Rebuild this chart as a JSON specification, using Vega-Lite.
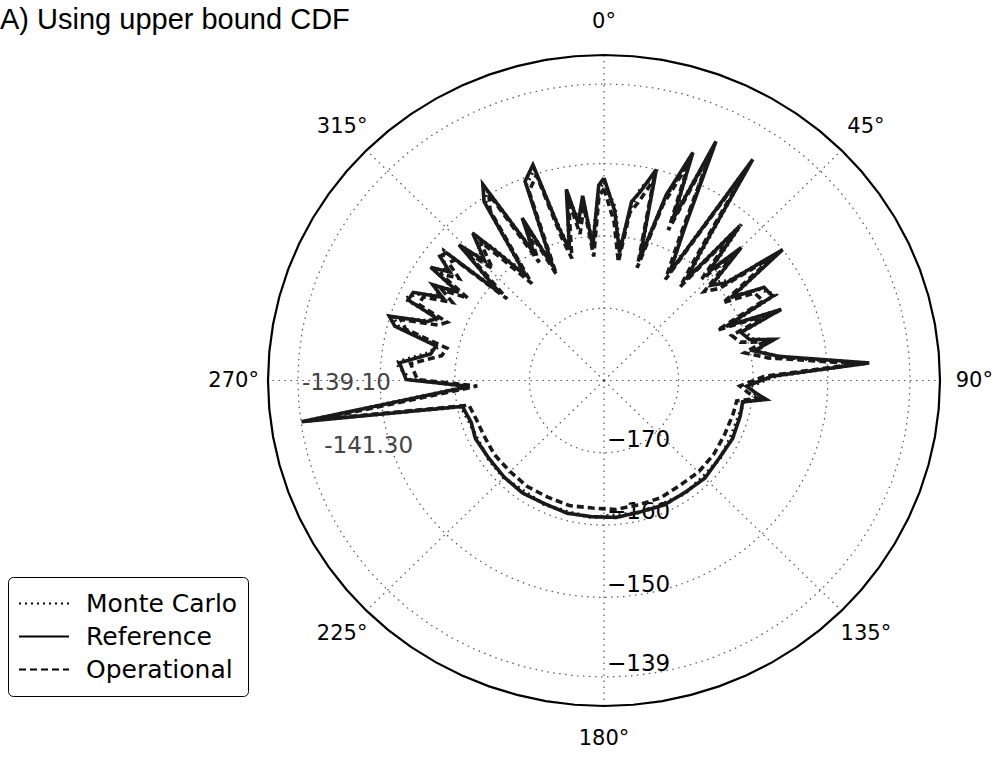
{
  "$schema": "https://vega.github.io/schema/vega-lite/v6.json",
  "autosize": {"type": "none"},
  "width": 672,
  "height": 651,
  "padding": {"left": 268, "top": 55, "right": 58, "bottom": 53},
  "background": "white",
  "title": {"text": "A) Using upper bound CDF", "anchor": "start", "frame": "group", "dx": -268, "dy": 47, "fontSize": 29, "font": "Liberation Sans", "fontWeight": "normal", "color": "black", "baseline": "alphabetic", "offset": 0},
  "config": {
    "view": {"stroke": null},
    "legend": {"orient": "none", "legendX": -260, "legendY": 522, "strokeColor": "black", "cornerRadius": 5, "padding": 10, "fillColor": "white", "labelFont": "DejaVu Sans", "labelFontSize": 25, "labelColor": "black", "symbolType": "stroke", "symbolSize": 2500, "symbolStrokeWidth": 2, "symbolStrokeColor": "black", "clipHeight": 33, "labelOffset": 16, "rowPadding": 0, "labelLimit": 300}
  },
  "datasets": {
    "angles": [
      {"a": 0}, {"a": 5}, {"a": 10}, {"a": 15}, {"a": 20}, {"a": 25}, {"a": 30}, {"a": 35}, {"a": 40}, {"a": 45},
      {"a": 50}, {"a": 55}, {"a": 60}, {"a": 65}, {"a": 70}, {"a": 75}, {"a": 80}, {"a": 85}, {"a": 90}, {"a": 95},
      {"a": 100}, {"a": 105}, {"a": 110}, {"a": 115}, {"a": 120}, {"a": 125}, {"a": 130}, {"a": 135}, {"a": 140}, {"a": 145},
      {"a": 150}, {"a": 155}, {"a": 160}, {"a": 165}, {"a": 170}, {"a": 175}, {"a": 180}, {"a": 185}, {"a": 190}, {"a": 195},
      {"a": 200}, {"a": 205}, {"a": 210}, {"a": 215}, {"a": 220}, {"a": 225}, {"a": 230}, {"a": 235}, {"a": 240}, {"a": 245},
      {"a": 250}, {"a": 255}, {"a": 260}, {"a": 265}, {"a": 270}, {"a": 275}, {"a": 280}, {"a": 285}, {"a": 290}, {"a": 295},
      {"a": 300}, {"a": 305}, {"a": 310}, {"a": 315}, {"a": 320}, {"a": 325}, {"a": 330}, {"a": 335}, {"a": 340}, {"a": 345},
      {"a": 350}, {"a": 355}, {"a": 360}
    ],
    "curves": [
      {"a": 0, "Reference": -152.0, "Monte Carlo": -152.6, "Operational": -153.5},
      {"a": 3.5, "Reference": -156.5, "Monte Carlo": -156.0, "Operational": -158.0},
      {"a": 6.7, "Reference": -162.2, "Monte Carlo": -161.8, "Operational": -163.5},
      {"a": 8.5, "Reference": -155.0, "Monte Carlo": -155.8, "Operational": -156.5},
      {"a": 10.5, "Reference": -153.5, "Monte Carlo": -153.0, "Operational": -155.0},
      {"a": 13.5, "Reference": -150.0, "Monte Carlo": -150.8, "Operational": -151.5},
      {"a": 15.9, "Reference": -162.6, "Monte Carlo": -162.0, "Operational": -163.8},
      {"a": 18.0, "Reference": -153.0, "Monte Carlo": -153.5, "Operational": -154.5},
      {"a": 20.7, "Reference": -146.3, "Monte Carlo": -147.0, "Operational": -147.8},
      {"a": 22.5, "Reference": -156.0, "Monte Carlo": -155.2, "Operational": -157.5},
      {"a": 24.4, "Reference": -143.7, "Monte Carlo": -144.5, "Operational": -145.0},
      {"a": 27.0, "Reference": -156.0, "Monte Carlo": -156.8, "Operational": -157.5},
      {"a": 30.5, "Reference": -162.7, "Monte Carlo": -162.2, "Operational": -163.8},
      {"a": 33.1, "Reference": -143.5, "Monte Carlo": -144.3, "Operational": -145.0},
      {"a": 36.0, "Reference": -158.0, "Monte Carlo": -157.2, "Operational": -159.5},
      {"a": 38.2, "Reference": -162.2, "Monte Carlo": -162.0, "Operational": -163.5},
      {"a": 40.4, "Reference": -152.0, "Monte Carlo": -151.5, "Operational": -153.5},
      {"a": 43.0, "Reference": -159.5, "Monte Carlo": -159.0, "Operational": -160.8},
      {"a": 45.0, "Reference": -154.0, "Monte Carlo": -154.6, "Operational": -155.5},
      {"a": 47.5, "Reference": -160.5, "Monte Carlo": -160.0, "Operational": -161.8},
      {"a": 50.5, "Reference": -158.8, "Monte Carlo": -158.3, "Operational": -160.0},
      {"a": 52.9, "Reference": -150.0, "Monte Carlo": -150.6, "Operational": -151.5},
      {"a": 56.0, "Reference": -159.5, "Monte Carlo": -159.0, "Operational": -160.8},
      {"a": 59.0, "Reference": -155.0, "Monte Carlo": -155.5, "Operational": -156.5},
      {"a": 62.7, "Reference": -154.6, "Monte Carlo": -154.2, "Operational": -156.0},
      {"a": 65.4, "Reference": -162.0, "Monte Carlo": -161.6, "Operational": -163.3},
      {"a": 67.5, "Reference": -154.3, "Monte Carlo": -154.8, "Operational": -155.8},
      {"a": 70.0, "Reference": -160.5, "Monte Carlo": -160.0, "Operational": -161.8},
      {"a": 73.8, "Reference": -159.7, "Monte Carlo": -159.3, "Operational": -161.0},
      {"a": 76.0, "Reference": -156.5, "Monte Carlo": -157.0, "Operational": -158.0},
      {"a": 78.5, "Reference": -159.5, "Monte Carlo": -159.0, "Operational": -160.8},
      {"a": 81.9, "Reference": -156.3, "Monte Carlo": -156.8, "Operational": -157.8},
      {"a": 86.1, "Reference": -144.4, "Monte Carlo": -145.0, "Operational": -146.0},
      {"a": 88.5, "Reference": -157.5, "Monte Carlo": -157.0, "Operational": -158.6},
      {"a": 92.4, "Reference": -160.9, "Monte Carlo": -160.5, "Operational": -161.8},
      {"a": 95.0, "Reference": -159.5, "Monte Carlo": -159.8, "Operational": -160.6},
      {"a": 96.9, "Reference": -158.1, "Monte Carlo": -158.5, "Operational": -159.3},
      {"a": 99.0, "Reference": -161.2, "Monte Carlo": -161.0, "Operational": -162.0},
      {"a": 105, "Reference": -161.1, "Monte Carlo": -161.3, "Operational": -162.1},
      {"a": 115, "Reference": -161.0, "Monte Carlo": -161.3, "Operational": -162.2},
      {"a": 125, "Reference": -161.2, "Monte Carlo": -161.1, "Operational": -162.1},
      {"a": 135, "Reference": -160.9, "Monte Carlo": -161.2, "Operational": -162.1},
      {"a": 145, "Reference": -161.1, "Monte Carlo": -161.0, "Operational": -162.3},
      {"a": 155, "Reference": -161.0, "Monte Carlo": -161.2, "Operational": -162.1},
      {"a": 165, "Reference": -161.2, "Monte Carlo": -161.1, "Operational": -162.2},
      {"a": 175, "Reference": -161.0, "Monte Carlo": -161.3, "Operational": -162.1},
      {"a": 185, "Reference": -161.1, "Monte Carlo": -161.0, "Operational": -162.3},
      {"a": 195, "Reference": -161.0, "Monte Carlo": -161.2, "Operational": -162.1},
      {"a": 205, "Reference": -161.2, "Monte Carlo": -161.1, "Operational": -162.2},
      {"a": 215, "Reference": -161.0, "Monte Carlo": -161.3, "Operational": -162.1},
      {"a": 225, "Reference": -161.1, "Monte Carlo": -161.0, "Operational": -162.2},
      {"a": 235, "Reference": -161.2, "Monte Carlo": -161.1, "Operational": -162.1},
      {"a": 245, "Reference": -161.0, "Monte Carlo": -161.2, "Operational": -162.2},
      {"a": 252, "Reference": -161.3, "Monte Carlo": -161.1, "Operational": -162.1},
      {"a": 259.3, "Reference": -160.7, "Monte Carlo": -160.5, "Operational": -161.6},
      {"a": 262.0, "Reference": -139.1, "Monte Carlo": -139.6, "Operational": -141.3},
      {"a": 267.4, "Reference": -162.0, "Monte Carlo": -161.6, "Operational": -163.0},
      {"a": 270.3, "Reference": -153.5, "Monte Carlo": -154.0, "Operational": -155.0},
      {"a": 275.1, "Reference": -152.5, "Monte Carlo": -152.0, "Operational": -154.0},
      {"a": 279.0, "Reference": -156.5, "Monte Carlo": -156.0, "Operational": -158.0},
      {"a": 282.0, "Reference": -157.0, "Monte Carlo": -157.4, "Operational": -158.5},
      {"a": 285.0, "Reference": -151.0, "Monte Carlo": -151.6, "Operational": -152.5},
      {"a": 287.2, "Reference": -149.9, "Monte Carlo": -150.4, "Operational": -151.5},
      {"a": 289.0, "Reference": -155.0, "Monte Carlo": -154.5, "Operational": -156.5},
      {"a": 291.0, "Reference": -156.0, "Monte Carlo": -156.5, "Operational": -157.5},
      {"a": 293.0, "Reference": -151.5, "Monte Carlo": -151.0, "Operational": -153.0},
      {"a": 295.5, "Reference": -151.7, "Monte Carlo": -152.2, "Operational": -153.2},
      {"a": 298.0, "Reference": -155.5, "Monte Carlo": -155.0, "Operational": -157.0},
      {"a": 300.0, "Reference": -153.5, "Monte Carlo": -154.0, "Operational": -155.0},
      {"a": 302.0, "Reference": -157.0, "Monte Carlo": -156.5, "Operational": -158.5},
      {"a": 304.0, "Reference": -152.0, "Monte Carlo": -152.5, "Operational": -153.5},
      {"a": 306.0, "Reference": -154.5, "Monte Carlo": -154.0, "Operational": -156.0},
      {"a": 308.0, "Reference": -152.1, "Monte Carlo": -152.6, "Operational": -153.6},
      {"a": 309.9, "Reference": -152.5, "Monte Carlo": -152.0, "Operational": -154.0},
      {"a": 311.0, "Reference": -161.5, "Monte Carlo": -161.0, "Operational": -162.8},
      {"a": 314.0, "Reference": -153.0, "Monte Carlo": -153.5, "Operational": -154.5},
      {"a": 316.0, "Reference": -157.0, "Monte Carlo": -156.5, "Operational": -158.5},
      {"a": 319.2, "Reference": -153.1, "Monte Carlo": -153.6, "Operational": -154.6},
      {"a": 321.0, "Reference": -157.0, "Monte Carlo": -156.6, "Operational": -158.5},
      {"a": 324.2, "Reference": -162.2, "Monte Carlo": -161.8, "Operational": -163.5},
      {"a": 327.0, "Reference": -150.5, "Monte Carlo": -151.0, "Operational": -152.0},
      {"a": 329.1, "Reference": -148.4, "Monte Carlo": -149.0, "Operational": -150.0},
      {"a": 332.0, "Reference": -160.0, "Monte Carlo": -159.5, "Operational": -161.5},
      {"a": 334.0, "Reference": -155.0, "Monte Carlo": -155.6, "Operational": -156.5},
      {"a": 336.5, "Reference": -162.8, "Monte Carlo": -162.3, "Operational": -164.0},
      {"a": 339.0, "Reference": -150.5, "Monte Carlo": -151.0, "Operational": -152.0},
      {"a": 342.3, "Reference": -148.7, "Monte Carlo": -149.3, "Operational": -150.2},
      {"a": 344.0, "Reference": -158.0, "Monte Carlo": -157.5, "Operational": -159.5},
      {"a": 345.7, "Reference": -161.3, "Monte Carlo": -161.0, "Operational": -162.6},
      {"a": 349.2, "Reference": -153.1, "Monte Carlo": -153.6, "Operational": -154.6},
      {"a": 351.0, "Reference": -158.0, "Monte Carlo": -157.5, "Operational": -159.5},
      {"a": 353.6, "Reference": -154.3, "Monte Carlo": -154.8, "Operational": -155.8},
      {"a": 355.4, "Reference": -161.4, "Monte Carlo": -161.0, "Operational": -162.8},
      {"a": 358.5, "Reference": -153.0, "Monte Carlo": -153.5, "Operational": -154.5},
      {"a": 360, "Reference": -152.0, "Monte Carlo": -152.6, "Operational": -153.5}
    ]
  },
  "encoding": {
    "x": {"field": "x", "type": "quantitative", "scale": {"domain": [-45, 45], "nice": false, "zero": false}, "axis": null},
    "y": {"field": "y", "type": "quantitative", "scale": {"domain": [-45, 45], "nice": false, "zero": false}, "axis": null}
  },
  "layer": [
    {
      "data": {"values": [{"a": 0}, {"a": 45}, {"a": 90}, {"a": 135}, {"a": 180}, {"a": 225}, {"a": 270}, {"a": 315}]},
      "transform": [
        {"calculate": "0", "as": "x"},
        {"calculate": "0", "as": "y"},
        {"calculate": "45 * sin(datum.a * PI / 180)", "as": "x2"},
        {"calculate": "45 * cos(datum.a * PI / 180)", "as": "y2"}
      ],
      "mark": {"type": "rule", "color": "#555", "strokeWidth": 1.2, "strokeDash": [1.5, 4.5]},
      "encoding": {"x2": {"field": "x2"}, "y2": {"field": "y2"}}
    },
    {
      "data": {"name": "angles"},
      "transform": [
        {"calculate": "[-170, -160, -150, -139]", "as": "v"},
        {"flatten": ["v"]},
        {"calculate": "(datum.v + 180) * sin(datum.a * PI / 180)", "as": "x"},
        {"calculate": "(datum.v + 180) * cos(datum.a * PI / 180)", "as": "y"}
      ],
      "mark": {"type": "line", "color": "#555", "strokeWidth": 1.2, "strokeDash": [1.5, 4.5]},
      "encoding": {"order": {"field": "a", "type": "quantitative"}, "detail": {"field": "v"}}
    },
    {
      "data": {"name": "angles"},
      "transform": [
        {"calculate": "45 * sin(datum.a * PI / 180)", "as": "x"},
        {"calculate": "45 * cos(datum.a * PI / 180)", "as": "y"}
      ],
      "mark": {"type": "line", "color": "black", "strokeWidth": 2.2},
      "encoding": {"order": {"field": "a", "type": "quantitative"}}
    },
    {
      "data": {"values": [
        {"a": 0, "t": "0°"}, {"a": 45, "t": "45°"}, {"a": 90, "t": "90°"}, {"a": 135, "t": "135°"},
        {"a": 180, "t": "180°"}, {"a": 225, "t": "225°"}, {"a": 270, "t": "270°"}, {"a": 315, "t": "315°"}
      ]},
      "transform": [
        {"calculate": "49.6 * sin(datum.a * PI / 180)", "as": "x"},
        {"calculate": "49.6 * cos(datum.a * PI / 180)", "as": "y"}
      ],
      "mark": {"type": "text", "font": "DejaVu Sans", "fontSize": 21, "color": "black", "align": "center", "baseline": "middle"},
      "encoding": {"text": {"field": "t"}}
    },
    {
      "data": {"values": [
        {"v": -170, "t": "−170"}, {"v": -160, "t": "−160"}, {"v": -150, "t": "−150"}, {"v": -139, "t": "−139"}
      ]},
      "transform": [
        {"calculate": "0", "as": "x"},
        {"calculate": "-(datum.v + 180)", "as": "y"}
      ],
      "mark": {"type": "text", "font": "DejaVu Sans", "fontSize": 23, "color": "black", "align": "left", "baseline": "middle", "dx": 3, "dy": -13},
      "encoding": {"text": {"field": "t"}}
    },
    {
      "data": {"values": [
        {"a": 269.5, "v": -145.5, "t": "-139.10"}, {"a": 253.9, "v": -147.2, "t": "-141.30"}
      ]},
      "transform": [
        {"calculate": "(datum.v + 180) * sin(datum.a * PI / 180)", "as": "x"},
        {"calculate": "(datum.v + 180) * cos(datum.a * PI / 180)", "as": "y"}
      ],
      "mark": {"type": "text", "font": "DejaVu Sans", "fontSize": 23, "color": "#444", "align": "center", "baseline": "middle"},
      "encoding": {"text": {"field": "t"}}
    },
    {
      "data": {"name": "curves"},
      "transform": [
        {"fold": ["Monte Carlo", "Reference", "Operational"], "as": ["series", "v"]},
        {"calculate": "(datum.v + 180) * sin(datum.a * PI / 180)", "as": "x"},
        {"calculate": "(datum.v + 180) * cos(datum.a * PI / 180)", "as": "y"}
      ],
      "mark": {"type": "line", "color": "#1a1a1a", "strokeWidth": 3.6},
      "encoding": {
        "order": {"field": "a", "type": "quantitative"},
        "strokeDash": {"field": "series", "type": "nominal", "title": null,
          "scale": {"domain": ["Monte Carlo", "Reference", "Operational"], "range": [[2, 4], [1, 0], [7, 4]]},
          "sort": ["Monte Carlo", "Reference", "Operational"]}
      }
    }
  ]
}
